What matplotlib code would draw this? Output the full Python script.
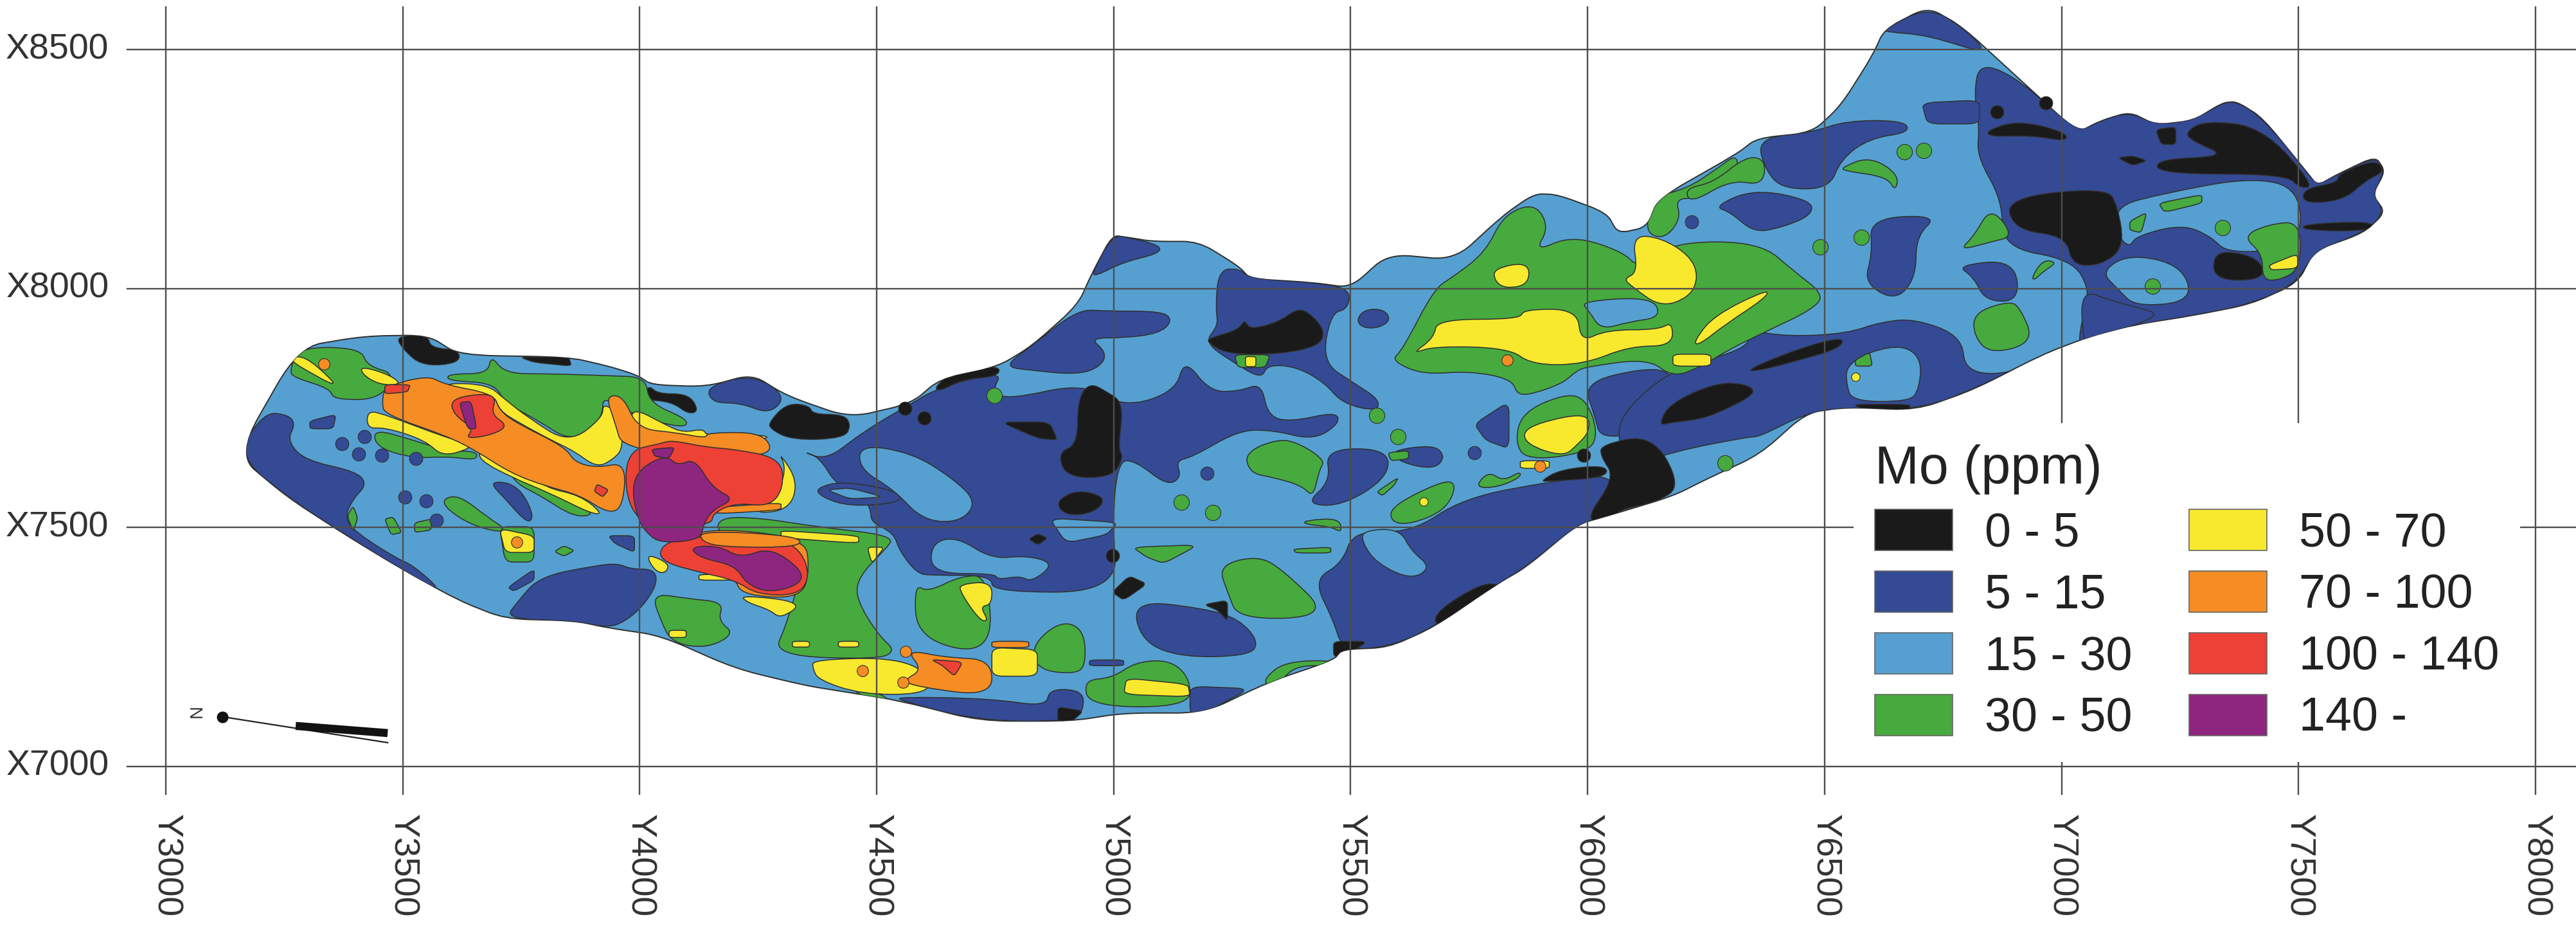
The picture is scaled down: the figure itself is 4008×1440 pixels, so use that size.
import matplotlib
matplotlib.use("Agg")
import matplotlib.pyplot as plt
from matplotlib.patches import PathPatch, Patch
from matplotlib.path import Path

plt.rcParams['font.family'] = ['Liberation Sans', 'DejaVu Sans']

# map grid, survey coordinates
y_grid = [3000, 3500, 4000, 4500, 5000, 5500, 6000, 6500, 7000, 7500, 8000]
x_grid = [7000, 7500, 8000, 8500]
class_labels = ['0 - 5', '5 - 15', '15 - 30', '30 - 50', '50 - 70', '70 - 100', '100 - 140', '140 -']
class_colors = ['#1a1a1a', '#344a94', '#55a0d0', '#46aa3e', '#f8e92f', '#f58d24', '#ed4136', '#8e267f']

# deposit outline (Y, X)
outline = [(3150,7652),(3280,7878),(3419,7901),(3553,7903),(3619,7861),(3850,7857),(3934,7838),(3995,7819),(4025,7799),
    (4140,7795),(4237,7821),(4310,7776),(4443,7730),(4573,7760),(4633,7811),(4755,7837),(4827,7880),(4924,7966),(4955,8034),
    (4997,8112),(5033,8107),(5082,8099),(5179,8099),(5264,8047),(5288,8021),(5421,8013),(5500,8002),(5579,8073),(5719,8060),
    (5822,8154),(5888,8199),(5937,8197),(6040,8159),(6064,8116),(6125,8129),(6149,8189),(6316,8283),(6357,8315),(6473,8327),
    (6534,8383),(6601,8488),(6626,8543),(6717,8590),(6790,8549),(6912,8438),(7034,8327),(7083,8352),(7144,8370),(7199,8343),
    (7278,8352),(7339,8389),(7369,8392),(7424,8358),(7516,8246),(7540,8216),(7583,8240),(7662,8277),(7683,8246),(7656,8197),
    (7683,8160),(7638,8117),(7534,8080),(7498,8012),(7400,7968),(7278,7944),(7156,7925),(7059,7900),(6961,7863),(6815,7789),
    (6693,7746),(6546,7752),(6461,7740),(6363,7653),(6254,7603),(6180,7566),(6040,7524),(5979,7507),(5870,7417),(5809,7382),
    (5676,7292),(5579,7249),(5482,7245),(5464,7223),(5325,7176),(5191,7112),(5021,7112),(4912,7095),(4718,7095),(4548,7138),
    (4415,7159),(4347,7170),(4201,7205),(4044,7274),(3934,7290),(3862,7305),(3716,7309),(3619,7347),(3498,7413),(3377,7486),(3256,7564)]

dark_areas = [
    [(3150,7652),(3207,7741),(3256,7737),(3274,7718),(3256,7683),(3292,7641),(3401,7618),(3425,7591),(3395,7560),(3377,7521),(3401,7490),(3486,7436),(3522,7421),(3583,7367),(3535,7390),(3377,7486),(3256,7564)],
    [(3716,7309),(3741,7344),(3789,7398),(3910,7421),(3953,7425),(3983,7413),(4031,7413),(4037,7382),(4007,7336),(3971,7305),(3934,7290),(3862,7305)],
    [(4140,7795),(4237,7821),(4310,7776),(4274,7737),(4213,7761),(4153,7761)],
    [(4340,7660),(4395,7641),(4470,7700),(4573,7760),(4633,7794),(4767,7828),(4743,7786),(4779,7768),(4936,7803),(5021,7751),(5131,7785),(5149,7854),(5203,7785),(5264,7785),(5312,7803),(5325,7734),(5373,7721),(5470,7743),(5476,7717),(5421,7683),(5337,7704),(5264,7704),(5167,7648),(5131,7640),(5143,7605),(5112,7588),(5046,7640),(5009,7640),(4997,7511),(5009,7365),(4743,7365),(4743,7400),(4615,7400),(4585,7404),(4548,7451),(4536,7489),(4488,7511),(4488,7537),(4464,7580),(4415,7588),(4379,7648)],
    [(4955,8034),(4997,8112),(5033,8107),(5100,8090),(5094,8073),(5021,8056),(4961,8026)],
    [(4827,7880),(4924,7957),(4985,7953),(5106,7953),(5124,7931),(5094,7906),(5021,7897),(4949,7897),(4985,7867),(4973,7837),(4924,7820),(4827,7829),(4767,7837)],
    [(5221,8039),(5264,8043),(5288,8021),(5421,8013),(5500,8000),(5494,7957),(5458,7949),(5440,7846),(5506,7803),(5561,7768),(5555,7743),(5482,7760),(5446,7803),(5385,7837),(5324,7841),(5312,7811),(5252,7846),(5191,7888),(5221,7923),(5215,7957)],
    [(5512,7935),(5530,7957),(5570,7957),(5585,7935),(5560,7918),(5525,7918)],
    [(5737,7562),(5925,7597),(6064,7614),(6040,7524),(5979,7507),(5870,7417),(5809,7382),(5676,7292),(5579,7249),(5482,7245),(5464,7305),(5421,7391),(5482,7425),(5506,7494),(5628,7489)],
    [(5991,7803),(6112,7833),(6173,7828),(6191,7786),(6149,7708),(6028,7683),(6015,7734)],
    [(6180,7832),(6339,7875),(6339,7913),(6424,7900),(6546,7906),(6620,7931),(6693,7937),(6790,7900),(6796,7826),(6888,7820),(6961,7863),(6815,7789),(6693,7746),(6546,7752),(6461,7740),(6363,7690),(6339,7690),(6180,7659),(6095,7628),(6059,7690),(6083,7752)],
    [(6626,8543),(6717,8590),(6790,8549),(6851,8488),(6717,8531),(6632,8537)],
    [(6827,8475),(6912,8438),(7034,8327),(7083,8352),(7144,8370),(7199,8343),(7278,8352),(7339,8389),(7369,8392),(7424,8358),(7516,8246),(7540,8216),(7583,8240),(7662,8277),(7683,8246),(7656,8197),(7683,8160),(7638,8117),(7534,8080),(7498,8012),(7400,7968),(7278,7944),(7156,7925),(7059,7900),(7034,7876),(7046,7950),(7059,7999),(7022,8061),(6875,8086),(6875,8185),(6821,8277),(6827,8339),(6815,8407)],
    [(6357,8315),(6473,8327),(6546,8352),(6668,8352),(6680,8327),(6595,8315),(6534,8271),(6510,8209),(6412,8209),(6376,8246)],
    [(6705,8389),(6827,8395),(6827,8345),(6717,8345)],
    [(6266,8172),(6351,8209),(6473,8185),(6473,8154),(6412,8129),(6351,8117),(6302,8160)],
    [(6595,8148),(6741,8154),(6693,8110),(6693,8024),(6650,7974),(6583,8012),(6601,8073)],
    [(6778,8049),(6900,8061),(6912,7974),(6839,7974),(6815,8024)],
    [(7040,7999),(7107,7974),(7156,7962),(7217,7944),(7059,7894),(7046,7888)],
    [(3304,7723),(3359,7737),(3353,7707),(3304,7707)],
    [(3680,7598),(3741,7591),(3777,7529),(3765,7506),(3716,7560)],
    [(3934,7483),(3989,7483),(3989,7448),(3947,7467)],
    [(3722,7375),(3777,7413),(3777,7390),(3734,7367)],
    [(4548,7146),(4743,7142),(4858,7125),(4864,7163),(4936,7159),(4936,7116),(4912,7095),(4718,7095),(4548,7138)],
    [(4949,7223),(5021,7223),(5021,7211),(4949,7211)],
    [(5040,7348),(5191,7331),(5264,7309),(5306,7262),(5288,7232),(5143,7228),(5058,7262)],
    [(5161,7168),(5288,7163),(5191,7112),(5161,7112)],
    [(5446,7665),(5579,7665),(5579,7605),(5482,7545),(5403,7549),(5458,7597)],
    [(5579,7660),(5676,7674),(5700,7648),(5676,7622),(5609,7635)],
    [(5761,7717),(5834,7764),(5834,7665),(5785,7683)],
    [(4371,7583),(4431,7598),(4550,7575),(4550,7552),(4443,7544),(4383,7564)],
    [(4516,7637),(4550,7606),(4550,7568),(4516,7591)],
]
light_areas = [
    [(4464,7674),(4573,7657),(4658,7605),(4712,7554),(4676,7511),(4597,7515),(4536,7580),(4464,7622)],
    [(4615,7468),(4669,7481),(4743,7434),(4815,7442),(4876,7425),(4827,7386),(4803,7399),(4755,7391),(4749,7404),(4615,7404)],
    [(4864,7520),(4900,7468),(4985,7485),(5009,7511)],
    [(5525,7494),(5603,7498),(5628,7451),(5670,7417),(5628,7391),(5555,7425),(5525,7468)],
    [(6546,7838),(6595,7869),(6668,7882),(6705,7851),(6699,7789),(6680,7764),(6558,7764),(6546,7801)],
    [(7113,8172),(7204,8197),(7400,8234),(7504,8209),(7504,8086),(7351,8073),(7315,8110),(7254,8135),(7156,8110),(7144,8086),(7119,8110)],
    [(7083,8036),(7144,8073),(7254,8049),(7278,7974),(7156,7962),(7119,7999)],
    [(4395,7579),(4443,7583),(4516,7564),(4443,7560)],
]
black_areas = [
    [(3486,7901),(3553,7903),(3559,7876),(3619,7872),(3619,7844),(3540,7838),(3498,7876)],
    [(3747,7857),(3850,7857),(3856,7838),(3777,7846)],
    [(4019,7799),(4037,7780),(4103,7780),(4125,7745),(4103,7737),(4067,7764),(4001,7768)],
    [(4274,7722),(4310,7760),(4358,7756),(4365,7737),(4431,7737),(4446,7714),(4431,7687),(4322,7683),(4274,7707)],
    [(4621,7794),(4670,7833),(4761,7839),(4755,7816),(4682,7811),(4633,7785)],
    [(4924,7768),(4949,7803),(4985,7785),(5021,7760),(5009,7665),(5021,7648),(4997,7605),(4900,7605),(4882,7657),(4924,7674)],
    [(4761,7721),(4864,7721),(4882,7683),(4840,7687)],
    [(4876,7554),(4924,7580),(4985,7563),(4961,7532),(4900,7524)],
    [(4821,7476),(4840,7487),(4860,7478),(4840,7464)],
    [(4997,7365),(5033,7399),(5070,7382),(5021,7348)],
    [(5191,7339),(5240,7348),(5240,7305),(5221,7326)],
    [(5676,7292),(5682,7326),(5773,7382),(5815,7382),(5809,7365),(5737,7314)],
    [(5464,7262),(5537,7262),(5482,7228),(5464,7232)],
    [(4882,7125),(4936,7116),(4912,7095),(4882,7095)],
    [(5203,7897),(5264,7914),(5276,7936),(5288,7914),(5349,7931),(5385,7957),(5409,7953),(5446,7914),(5434,7880),(5349,7863),(5240,7863),(5197,7888)],
    [(6028,7674),(6137,7695),(6197,7588),(6149,7554),(6064,7537),(6052,7515),(5991,7511),(6058,7605),(6028,7648)],
    [(5943,7622),(6040,7631),(6040,7605),(5918,7597),(5900,7597)],
    [(6149,7713),(6173,7760),(6270,7803),(6333,7801),(6357,7783),(6302,7752),(6241,7727),(6180,7721)],
    [(6339,7832),(6449,7876),(6540,7900),(6534,7876),(6449,7851),(6351,7826)],
    [(6558,7758),(6680,7758),(6680,7746),(6595,7743)],
    [(6845,8333),(6912,8352),(7010,8327),(7010,8308),(6937,8321),(6845,8318)],
    [(6882,8191),(7095,8212),(7119,8172),(7132,8086),(7083,8049),(7022,8049),(7010,8110),(6900,8123)],
    [(7260,8327),(7302,8352),(7424,8339),(7534,8216),(7504,8209),(7473,8240),(7205,8240),(7199,8271),(7351,8277),(7278,8308)],
    [(7199,8333),(7241,8339),(7241,8302),(7210,8302)],
    [(7119,8274),(7150,8278),(7180,8268),(7150,8258)],
    [(7510,8209),(7583,8222),(7583,8240),(7662,8271),(7683,8246),(7644,8228),(7595,8185),(7510,8178)],
    [(7510,8135),(7644,8141),(7662,8129),(7620,8120),(7510,8123)],
    [(7321,8076),(7376,8076),(7424,8055),(7424,8018),(7321,8018)],
]
green_areas = [
    [(3262,7830),(3280,7878),(3411,7876),(3425,7838),(3486,7822),(3450,7768),(3353,7768),(3347,7791),(3268,7815)],
    [(3686,7861),(3716,7822),(3813,7822),(3934,7818),(4013,7815),(4019,7761),(4104,7726),(4092,7707),(3983,7737),(3922,7776),(3922,7737),(3898,7707),(3850,7683),(3789,7722),(3716,7761),(3692,7803),(3595,7807),(3595,7822),(3680,7822)],
    [(3438,7707),(3522,7683),(3595,7660),(3656,7660),(3656,7641),(3595,7649),(3522,7645),(3444,7668)],
    [(3722,7622),(3741,7622),(3801,7575),(3838,7560),(3910,7529),(3862,7521),(3789,7568),(3741,7591)],
    [(3583,7560),(3619,7568),(3680,7521),(3716,7498),(3704,7490),(3644,7506),(3595,7537)],
    [(3383,7525),(3395,7545),(3405,7520),(3395,7492)],
    [(3462,7518),(3480,7522),(3498,7490),(3475,7485)],
    [(3525,7510),(3560,7518),(3560,7495),(3525,7490)],
    [(3820,7450),(3840,7462),(3862,7452),(3840,7440)],
    [(3704,7502),(3777,7502),(3777,7428),(3716,7428)],
    [(4025,7363),(4104,7351),(4177,7344),(4165,7305),(4201,7278),(4141,7247),(4068,7259),(4044,7305)],
    [(4165,7521),(4250,7521),(4371,7502),(4540,7483),(4516,7452),(4462,7398),(4456,7351),(4504,7274),(4540,7243),(4504,7224),(4280,7232),(4310,7297),(4347,7429),(4347,7459),(4165,7483)],
    [(5276,7657),(5349,7687),(5397,7674),(5446,7640),(5434,7622),(5421,7563),(5397,7588),(5337,7605),(5288,7614)],
    [(5221,7421),(5306,7442),(5361,7408),(5458,7314),(5264,7307),(5240,7365)],
    [(4579,7382),(4609,7365),(4676,7399),(4736,7399),(4743,7232),(4585,7266)],
    [(4827,7254),(4888,7305),(4936,7288),(4942,7219),(4924,7193),(4839,7202)],
    [(4936,7181),(4997,7185),(5046,7219),(5119,7223),(5161,7185),(5161,7125),(4949,7125)],
    [(5318,7185),(5361,7219),(5458,7223),(5452,7211),(5385,7211),(5349,7176),(5324,7168)],
    [(5040,7459),(5179,7464),(5106,7425),(5070,7438)],
    [(5379,7455),(5458,7459),(5458,7447),(5385,7447)],
    [(5403,7515),(5476,7520),(5482,7489),(5458,7502),(5403,7507)],
    [(5585,7545),(5700,7601),(5724,7588),(5700,7537),(5628,7507),(5585,7511)],
    [(5579,7657),(5622,7661),(5622,7644),(5585,7640)],
    [(5761,7584),(5791,7618),(5822,7597),(5858,7618),(5858,7605),(5809,7584)],
    [(5555,7575),(5601,7605),(5591,7588),(5567,7567)],
    [(5864,7743),(5955,7781),(5997,7768),(6022,7700),(6003,7657),(5870,7640),(5846,7683)],
    [(5676,8000),(5718,8026),(5785,8077),(5822,8154),(5888,8180),(5919,8129),(5888,8077),(5967,8112),(6076,8077),(6106,8043),(6180,8098),(6363,8098),(6436,8036),(6500,7987),(6473,7956),(6382,7913),(6302,7875),(6241,7838),(6180,7814),(6128,7854),(6000,7837),(5976,7828),(5949,7803),(5888,7781),(5852,7777),(5840,7811),(5749,7828),(5652,7820),(5585,7850),(5609,7871)],
    [(6119,8120),(6143,8193),(6210,8210),(6270,8249),(6316,8283),(6316,8240),(6234,8189),(6185,8189),(6197,8146),(6161,8103)],
    [(6205,8210),(6266,8222),(6333,8277),(6376,8271),(6370,8216),(6302,8228),(6217,8178)],
    [(6534,8253),(6595,8277),(6656,8240),(6650,8203),(6632,8234),(6546,8246)],
    [(6815,8110),(6851,8172),(6900,8110),(6851,8098),(6784,8080)],
    [(6937,8024),(6961,8061),(6991,8055),(6961,8036),(6943,8018)],
    [(6815,7950),(6888,7974),(6912,7962),(6943,7888),(6851,7863),(6815,7900)],
    [(6565,7851),(6595,7867),(6601,7838),(6565,7838)],
    [(7144,8141),(7180,8160),(7168,8117),(7144,8123)],
    [(7205,8179),(7296,8197),(7296,8179),(7217,8160)],
    [(7382,8110),(7437,8135),(7504,8141),(7504,8042),(7461,8018),(7424,8018),(7424,8073)],
    [(4443,7166),(4510,7151),(4540,7128),(4504,7125)],
    [(5255,7862),(5330,7862),(5320,7835),(5262,7835)],
]
light_holes = [
    [(5985,7974),(6137,7983),(6155,7940),(6088,7931),(6028,7914),(6003,7953)],
]
yellow_areas = [
    [(3425,7745),(3462,7737),(3595,7687),(3644,7675),(3638,7664),(3583,7649),(3547,7683),(3462,7710),(3425,7707)],
    [(3662,7664),(3692,7660),(3741,7629),(3801,7583),(3874,7568),(3922,7529),(3898,7529),(3813,7571),(3728,7606),(3662,7641)],
    [(3595,7803),(3680,7799),(3716,7768),(3765,7730),(3850,7676),(3922,7730),(3922,7761),(3959,7737),(3965,7668),(3947,7645),(3910,7625),(3862,7660),(3813,7683),(3741,7722),(3704,7745),(3692,7780),(3595,7791)],
    [(3983,7753),(4056,7714),(4092,7699),(4135,7707),(4141,7691),(4268,7695),(4268,7683),(4056,7676),(3983,7707)],
    [(3256,7853),(3292,7861),(3353,7807),(3353,7799),(3316,7818)],
    [(3413,7838),(3474,7819),(3498,7799),(3450,7799),(3413,7822)],
    [(4292,7660),(4334,7598),(4316,7537),(4237,7529),(4286,7560),(4310,7622)],
    [(4298,7494),(4462,7483),(4462,7467),(4298,7479)],
    [(4213,7359),(4347,7344),(4298,7309),(4274,7328),(4225,7344)],
    [(3704,7498),(3777,7483),(3777,7448),(3716,7448)],
    [(4019,7444),(4062,7425),(4056,7406),(4037,7406),(4019,7429)],
    [(4125,7402),(4201,7402),(4201,7390),(4125,7390)],
    [(4062,7285),(4098,7285),(4098,7270),(4062,7270)],
    [(4322,7262),(4358,7262),(4358,7250),(4322,7250)],
    [(4419,7262),(4462,7262),(4462,7250),(4419,7250)],
    [(4480,7459),(4516,7459),(4490,7425)],
    [(4365,7224),(4548,7228),(4620,7185),(4600,7151),(4468,7151),(4377,7181),(4365,7205)],
    [(4743,7249),(4839,7245),(4839,7189),(4743,7189)],
    [(4676,7382),(4743,7387),(4743,7339),(4718,7335),(4736,7305),(4718,7305),(4676,7365)],
    [(5027,7185),(5157,7172),(5161,7146),(5021,7151)],
    [(5682,7936),(5858,7936),(5864,7957),(5979,7957),(5985,7888),(6040,7914),(6149,7914),(6179,7931),(6179,7880),(6088,7880),(5991,7841),(5882,7841),(5834,7876),(5676,7880),(5628,7863),(5676,7897)],
    [(5803,8043),(5876,8056),(5876,8009),(5827,8000),(5803,8017)],
    [(6094,8112),(6155,8107),(6216,8069),(6234,8026),(6216,7983),(6155,7961),(6094,8004),(6076,8021),(6106,8034)],
    [(6223,7888),(6266,7944),(6382,8000),(6376,7981),(6290,7925),(6235,7882)],
    [(6180,7863),(6260,7863),(6260,7838),(6180,7838)],
    [(5864,7708),(5955,7734),(6003,7734),(6003,7700),(5979,7674),(5949,7648),(5870,7674)],
    [(5858,7640),(5919,7640),(5919,7624),(5858,7624)],
    [(5278,7858),(5300,7858),(5300,7837),(5278,7837)],
    [(7437,8049),(7498,8073),(7498,8043),(7443,8039)],
]
orange_areas = [
    [(3462,7795),(3553,7819),(3589,7799),(3692,7780),(3704,7745),(3741,7718),(3844,7668),(3862,7637),(3910,7625),(3971,7637),(3965,7544),(3934,7529),(3874,7568),(3801,7587),(3728,7614),(3656,7660),(3595,7691),(3462,7737),(3456,7761)],
    [(3928,7776),(3965,7776),(3995,7707),(4075,7699),(4141,7687),(4141,7699),(4268,7699),(4280,7641),(3965,7660),(3947,7722)],
    [(4140,7541),(4298,7552),(4298,7537),(4165,7529)],
    [(4092,7502),(4347,7483),(4359,7413),(4341,7351),(4213,7359),(4201,7398),(4092,7413)],
    [(4561,7245),(4646,7228),(4743,7224),(4743,7146),(4585,7167),(4555,7180),(4597,7202)],
    [(4743,7262),(4821,7262),(4821,7249),(4743,7249)],
]
red_areas = [
    [(3971,7660),(4044,7676),(4068,7683),(4141,7668),(4201,7664),(4298,7645),(4304,7583),(4274,7544),(4201,7552),(4153,7529),(4153,7506),(4019,7498),(3971,7552)],
    [(4044,7463),(4104,7483),(4177,7475),(4286,7483),(4341,7452),(4359,7398),(4335,7359),(4250,7359),(4201,7390),(4129,7406),(4044,7429)],
    [(3462,7799),(3516,7799),(3510,7784),(3462,7780)],
    [(3601,7768),(3656,7780),(3698,7776),(3686,7737),(3722,7714),(3692,7695),(3631,7685),(3650,7707),(3607,7737)],
    [(3910,7591),(3934,7579),(3922,7564),(3904,7576)],
    [(4615,7224),(4682,7219),(4664,7189),(4639,7211)],
]
orange_over_red = [
    [(4129,7494),(4335,7483),(4341,7459),(4177,7459),(4129,7471)],
]
purple_areas = [
    [(3983,7583),(4001,7625),(4056,7652),(4080,7629),(4116,7645),(4153,7583),(4201,7560),(4153,7537),(4134,7506),(4129,7475),(4044,7467),(4013,7490),(3995,7521)],
    [(4025,7664),(4074,7668),(4062,7645),(4032,7649)],
    [(4104,7459),(4165,7463),(4213,7436),(4274,7459),(4341,7413),(4341,7382),(4274,7363),(4225,7382),(4201,7421),(4129,7436)],
    [(3619,7761),(3644,7765),(3656,7707),(3637,7707)],
]

# small isolated blobs
dark_dots_y = [3371, 3407, 3456, 3419, 3504, 3549, 3571, 3528, 5197, 6220, 5761]
dark_dots_x = [7676, 7654, 7652, 7691, 7564, 7556, 7515, 7645, 7614, 8140, 7657]
black_dots_y = [4997, 4560, 4600, 5991, 6863, 6967]
black_dots_x = [7442, 7750, 7730, 7652, 8370, 8389]
green_dots_y = [5600, 5555, 5143, 5209, 4748, 6668, 6709, 6491, 6577, 7340, 7192, 6290]
green_dots_x = [7690, 7735, 7553, 7532, 7777, 8287, 8290, 8088, 8108, 8128, 8006, 7635]
yellow_dots_y = [5654, 6565]
yellow_dots_x = [7555, 7815]
orange_dots_y = [3740, 3333, 4470, 4561, 4555, 5900, 5830]
orange_dots_x = [7470, 7843, 7200, 7241, 7176, 7628, 7850]

# north arrow
arrow_y = [3120, 3468]
arrow_x = [7104, 7050]
arrow_bar_y = [3274, 3468]
arrow_bar_x = [7085, 7070]

fig = plt.figure(figsize=(40.08, 14.4), dpi=100)
ax = fig.add_axes([0, 0, 1, 1])
ax.set_xlim(2650.1, 8085.5)
ax.set_ylim(6666.2, 8604.3)
ax.axis('off')

edge = '#303030'


def rounded(pts, t):
    """closed path through pts with the corners rounded off"""
    verts, codes = [], []
    n = len(pts)
    for i in range(n):
        px, py = pts[i - 1]
        cx, cy = pts[i]
        nx, ny = pts[(i + 1) % n]
        a = (cx + t * (px - cx), cy + t * (py - cy))
        b = (cx + t * (nx - cx), cy + t * (ny - cy))
        verts += [a, (cx, cy), b]
        codes += [Path.MOVETO if i == 0 else Path.LINETO, Path.CURVE3, Path.CURVE3]
    verts.append(verts[0])
    codes.append(Path.CLOSEPOLY)
    return Path(verts, codes)


base = PathPatch(rounded(outline, 0.35), fc=class_colors[2], ec=edge, lw=1.4, zorder=2)
ax.add_patch(base)


def draw_areas(areas, color, z):
    for pts in areas:
        t = 0.5 if len(pts) > 4 else 0.25
        p = PathPatch(rounded(pts, t), fc=color, ec=edge, lw=1.1, zorder=z)
        ax.add_patch(p)
        p.set_clip_path(base)


def draw_dots(ys, xs, color, size):
    ax.scatter(ys, xs, s=size, c=color, edgecolors=edge, linewidths=0.8, zorder=9)


draw_areas(dark_areas, class_colors[1], 3)
draw_areas(light_areas, class_colors[2], 4)
draw_areas(black_areas, class_colors[0], 5)
draw_areas(green_areas, class_colors[3], 6)
draw_areas(light_holes, class_colors[2], 6.5)
draw_areas(yellow_areas, class_colors[4], 7)
draw_areas(orange_areas, class_colors[5], 8)
draw_areas(red_areas, class_colors[6], 8.5)
draw_areas(orange_over_red, class_colors[5], 8.7)
draw_areas(purple_areas, class_colors[7], 8.9)
draw_dots(dark_dots_y, dark_dots_x, class_colors[1], 220)
draw_dots(black_dots_y, black_dots_x, class_colors[0], 220)
draw_dots(green_dots_y, green_dots_x, class_colors[3], 300)
draw_dots(yellow_dots_y, yellow_dots_x, class_colors[4], 90)
draw_dots(orange_dots_y, orange_dots_x, class_colors[5], 160)

# grid over the map, with its ticks running past the frame
grid_color = '#4d4d4d'
for v in y_grid:
    ax.plot([v, v], [6942, 8590], color=grid_color, lw=1.7, zorder=10)
    ax.text(v, 6900, f'Y{v}', rotation=270, ha='center', va='top', fontsize=40, color='#333333')
for v in x_grid:
    ax.plot([2919, 8085.5], [v, v], color=grid_color, lw=1.7, zorder=10)
    ax.text(2880, v, f'X{v}', ha='right', va='center', fontsize=40, color='#333333')

# north arrow
ax.plot(arrow_y, arrow_x, color='#222222', lw=1.6, zorder=3)
ax.plot(arrow_bar_y, arrow_bar_x, color='#111111', lw=9, solid_capstyle='butt', zorder=3)
ax.plot(arrow_y[0], arrow_x[0], 'o', color='#111111', ms=12, zorder=3)
ax.text(3056, 7110, 'N', rotation=270, ha='center', va='center', fontsize=20, color='#333333')

handles = [Patch(fc=c, ec='#666666', lw=1.2) for c in class_colors]
leg = ax.legend(handles=handles, labels=class_labels, ncol=2, title='Mo (ppm)', loc='lower left',
                bbox_to_anchor=(0.7196, 0.177), borderaxespad=0, fontsize=53, title_fontsize=59.5,
                alignment='left', handlelength=1.64, handleheight=0.96, handletextpad=0.68,
                columnspacing=1.20, labelspacing=0.32, borderpad=0.45, framealpha=1,
                facecolor='white', edgecolor='none', fancybox=False, labelcolor='#222222')
leg.get_title().set_color('#222222')
leg.set_zorder(20)

fig.savefig('out.png', dpi=100)
